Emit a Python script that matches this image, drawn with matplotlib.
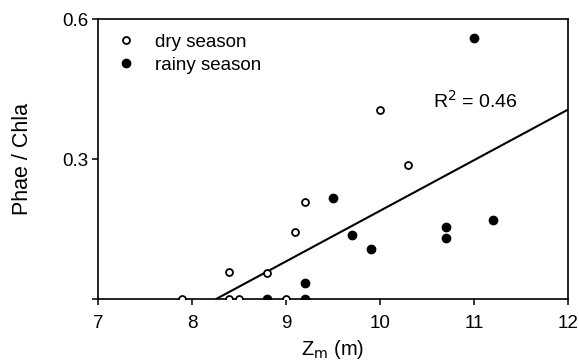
import matplotlib.pyplot as plt

plt.rcParams['font.family'] = ['Liberation Sans', 'DejaVu Sans']

# dry season (open circles)
dry_zm = [7.9, 8.4, 8.5, 9.0, 8.4, 8.8, 9.1, 9.2, 10.0, 10.3]
dry_ratio = [0.0, 0.0, 0.0, 0.0, 0.058, 0.056, 0.143, 0.208, 0.405, 0.287]

# rainy season (filled circles)
rainy_zm = [8.8, 9.2, 9.2, 9.5, 9.7, 9.9, 10.7, 10.7, 11.2, 11.0]
rainy_ratio = [0.0, 0.0, 0.034, 0.216, 0.137, 0.107, 0.154, 0.131, 0.169, 0.559]

# regression line, clipped at zero
fit_x = [8.26, 12.0]
fit_y = [0.0, 0.406]

x_ticks = [7, 8, 9, 10, 11, 12]
y_ticks = [0.0, 0.3, 0.6]
y_tick_labels = ['', '0.3', '0.6']

fig = plt.figure(figsize=(5.79, 3.61), dpi=100)
ax = fig.add_axes([0.169, 0.172, 0.812, 0.775])

ax.plot(fit_x, fit_y, color='black', lw=1.5, zorder=2)
ax.plot(dry_zm, dry_ratio, 'o', ms=5, mfc='white', mec='black', mew=1.3,
        label='dry season', zorder=3)
ax.plot(rainy_zm, rainy_ratio, 'o', ms=6, color='black',
        label='rainy season', zorder=3)

ax.text(10.56, 0.424, 'R$^2$ = 0.46', ha='left', va='center', fontsize=14)

ax.set_xlim(7, 12)
ax.set_ylim(0, 0.6)
ax.set_xticks(x_ticks)
ax.set_yticks(y_ticks)
ax.set_yticklabels(y_tick_labels)
ax.tick_params(direction='out', length=4.5, width=1.1, labelsize=13.5, pad=2)
ax.tick_params(axis='x', pad=7)

for s in ax.spines.values():
    s.set_linewidth(1.2)

ax.set_xlabel('Z$_\\mathrm{m}$ (m)', fontsize=14.5)
ax.xaxis.set_label_coords(0.5, -0.14)
ax.set_ylabel('Phae / Chla', fontsize=15.5)
ax.yaxis.set_label_coords(-0.138, 0.5)

ax.legend(loc='upper left', frameon=False, fontsize=13.5, handlelength=1.0,
          handletextpad=1.0, borderaxespad=0.0, labelspacing=0.3,
          bbox_to_anchor=(0.025, 0.975))

fig.savefig('out.png', dpi=100)
